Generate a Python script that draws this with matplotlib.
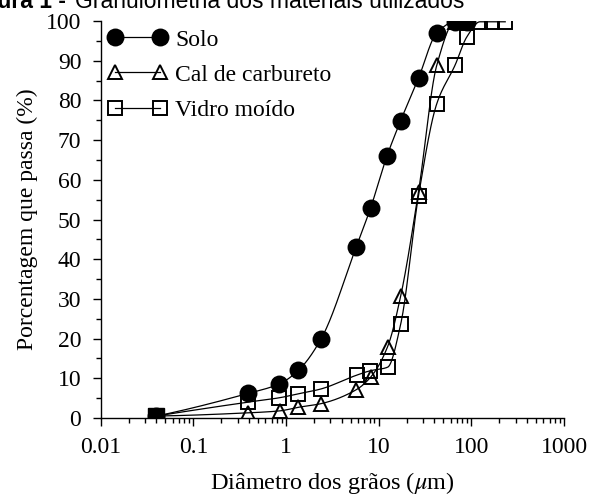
import numpy as np
import matplotlib
matplotlib.use("Agg")
import matplotlib.pyplot as plt
from matplotlib.ticker import MultipleLocator, LogLocator, NullFormatter, FuncFormatter


# diameters (um) and percent passing
solo_d = [0.04, 0.39, 0.85, 1.36, 2.4, 5.7, 8.2, 12.3, 17.2, 26.9, 42.4, 66.8, 90.8]
solo_p = [0.5, 6.2, 8.6, 12.0, 20.0, 43.0, 53.0, 66.0, 74.8, 85.6, 97.0, 99.8, 99.8]

cal_d = [0.04, 0.39, 0.86, 1.36, 2.37, 5.7, 8.2, 12.5, 17.3, 26.9, 42.4, 66.8, 90.8]
cal_p = [0.5, 1.3, 1.8, 2.7, 3.6, 7.1, 10.3, 18.0, 30.8, 57.0, 88.9, 99.8, 99.8]

vidro_d = [0.04, 0.39, 0.85, 1.36, 2.37, 5.8, 8.1, 12.5, 17.3, 26.9, 42.4, 66.8, 89.4, 124, 166, 232]
vidro_p = [0.5, 4.0, 5.1, 6.1, 7.3, 10.8, 11.9, 12.8, 23.7, 56.0, 79.2, 88.9, 96.0, 99.8, 99.8, 99.8]

labels = ["Solo", "Cal de carbureto", "Vidro moído"]


def pchip(x, y, xs):
    # monotone cubic through the points, used only to draw the smooth line
    x = np.asarray(x, float)
    y = np.asarray(y, float)
    h = np.diff(x)
    delta = np.diff(y) / h
    n = len(x)
    d = np.zeros(n)
    for k in range(1, n - 1):
        if delta[k - 1] * delta[k] > 0:
            w1 = 2 * h[k] + h[k - 1]
            w2 = h[k] + 2 * h[k - 1]
            d[k] = (w1 + w2) / (w1 / delta[k - 1] + w2 / delta[k])

    def end(h0, h1, d0, d1):
        dd = ((2 * h0 + h1) * d0 - h0 * d1) / (h0 + h1)
        if np.sign(dd) != np.sign(d0):
            dd = 0.0
        elif np.sign(d0) != np.sign(d1) and abs(dd) > abs(3 * d0):
            dd = 3 * d0
        return dd

    d[0] = end(h[0], h[1], delta[0], delta[1])
    d[-1] = end(h[-1], h[-2], delta[-1], delta[-2])
    i = np.clip(np.searchsorted(x, xs) - 1, 0, n - 2)
    t = (xs - x[i]) / h[i]
    h00 = 2 * t**3 - 3 * t**2 + 1
    h10 = t**3 - 2 * t**2 + t
    h01 = -2 * t**3 + 3 * t**2
    h11 = t**3 - t**2
    return h00 * y[i] + h10 * h[i] * d[i] + h01 * y[i + 1] + h11 * h[i] * d[i + 1]


def smooth(d, p):
    lx = np.log10(d)
    xs = np.linspace(lx[0], lx[-1], 400)
    return 10**xs, pchip(lx, p, xs)


plt.rcParams['font.family'] = ['Liberation Serif', 'DejaVu Serif']
plt.rcParams['mathtext.fontset'] = 'stix'

fig = plt.figure(figsize=(5.9, 4.99), dpi=100)
ax = fig.add_axes([100.7 / 590, 1 - 418 / 499, (564 - 100.7) / 590, (418 - 21) / 499])

series = [
    (solo_d, solo_p, 'o', 'k', 11.5),
    (cal_d, cal_p, '^', 'none', 10),
    (vidro_d, vidro_p, 's', 'none', 10),
]
for (d, p, m, fc, ms), lab in zip(series, labels):
    sx, sy = smooth(d, p)
    ax.plot(sx, sy, color='k', lw=0.9, zorder=2)
    ax.plot(d, p, linestyle='none', marker=m, ms=ms, mfc=fc, mec='k',
            mew=1.4, zorder=3)
    ax.plot([], [], color='k', lw=0.9, marker=m, ms=ms, mfc=fc, mec='k',
            mew=1.4, label=lab)

# the three curves start on the same point
ax.plot(solo_d[0], solo_p[0], 's', color='k', ms=11.5, zorder=4)

ax.set_xscale('log')
ax.set_xlim(0.01, 1000)
ax.set_ylim(0, 100)
ax.xaxis.set_major_locator(LogLocator(base=10, numticks=10))
ax.xaxis.set_minor_locator(LogLocator(base=10, subs=np.arange(2, 10), numticks=20))
ax.xaxis.set_minor_formatter(NullFormatter())
ax.xaxis.set_major_formatter(FuncFormatter(lambda v, pos: '%g' % v))
ax.yaxis.set_major_locator(MultipleLocator(10))
ax.yaxis.set_minor_locator(MultipleLocator(5))

for s in ['top', 'right']:
    ax.spines[s].set_visible(False)
for s in ['left', 'bottom']:
    ax.spines[s].set_linewidth(1.0)

ax.tick_params(which='major', direction='out', length=6, width=1.0, labelsize=17, pad=8)
ax.tick_params(which='minor', direction='out', length=3.6, width=1.0)

ax.set_xlabel(r'Diâmetro dos grãos ($\mu$m)', fontsize=17.5, labelpad=8)
ax.set_ylabel('Porcentagem que passa (%)', fontsize=17, labelpad=6)

ax.legend(loc='upper left', bbox_to_anchor=(108 / 590, 1 - 29 / 499),
          bbox_transform=fig.transFigure, frameon=False, fontsize=17,
          numpoints=2, handlelength=2.5, handletextpad=0.34, labelspacing=0.58,
          borderpad=0, borderaxespad=0)

# caption of the source figure, cut by the top edge
fig.text(66 / 590, 1 - 8 / 499, 'Figura 1 -', ha='right', va='baseline',
         fontsize=16.5, family='Liberation Sans', weight='bold')
fig.text(75 / 590, 1 - 8 / 499, 'Granulometria dos materiais utilizados',
         ha='left', va='baseline', fontsize=16.5, family='Liberation Sans')

fig.savefig('out.png', dpi=100)
